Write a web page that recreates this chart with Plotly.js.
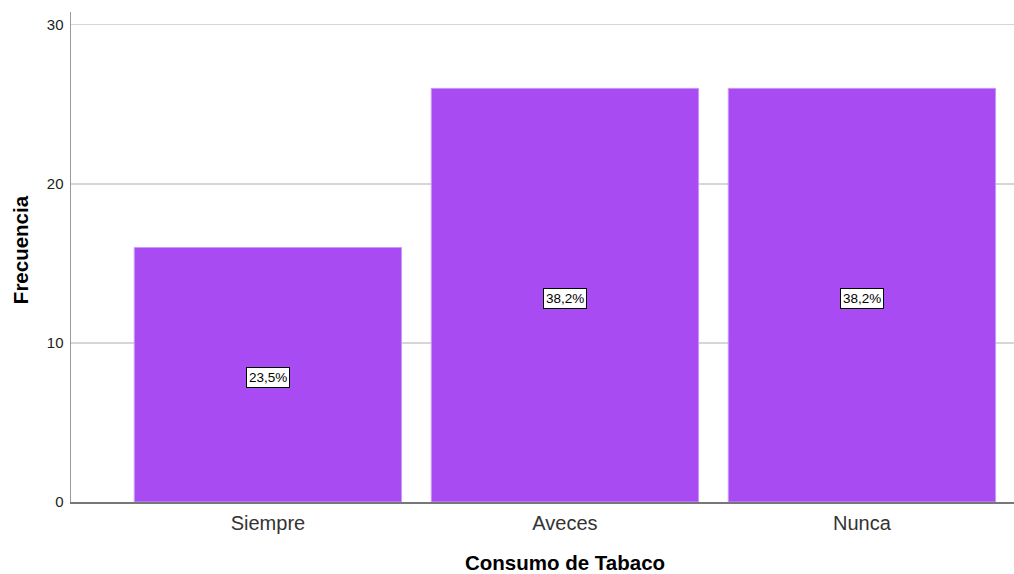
<!DOCTYPE html>
<html><head><meta charset="utf-8">
<script src="https://cdn.plot.ly/plotly-3.0.1.min.js"></script>
<style>html,body{margin:0;padding:0;background:#fff}#c{width:1014px;height:574px}</style>
</head><body><div id="c"></div>
<script>
const categories = ['Siempre', 'Aveces', 'Nunca'];
const frequencies = [16, 26, 26];
const percentLabels = ['23,5%', '38,2%', '38,2%'];
const yTicks = [0, 10, 20, 30];
const xTitle = 'Consumo de Tabaco';
const yTitle = 'Frecuencia';

const trace = {
  type: 'bar', x: categories, y: frequencies,
  marker: {color: '#a94bf2', line: {color: '#c79af5', width: 1}},
  width: 0.9, hoverinfo: 'skip'
};
const titleFont = {family: 'Liberation Sans, Arial', size: 20.5, color: '#000', weight: 'bold'};
const annotations = categories.map((c, i) => ({
  x: c, y: frequencies[i] / 2, xref: 'x', yref: 'y', yshift: -3, text: percentLabels[i],
  showarrow: false, bgcolor: '#ffffff', bordercolor: '#000000', borderwidth: 1, borderpad: 2,
  font: {family: 'Liberation Sans, Arial', size: 13.5, color: '#000'}
}));
annotations.push({
  x: categories[1], xref: 'x', y: 0, yref: 'paper', yshift: -60, yanchor: 'middle',
  borderpad: 0, text: xTitle, showarrow: false, font: titleFont
});
annotations.push({
  x: 0, xref: 'paper', xshift: -51, xanchor: 'center', y: 0.514, yref: 'paper', yanchor: 'middle',
  borderpad: 0, textangle: -90, text: yTitle, showarrow: false, font: titleFont
});
const layout = {
  width: 1014, height: 574,
  margin: {l: 71, r: 0, t: 12, b: 72},
  paper_bgcolor: '#fff', plot_bgcolor: '#fff',
  showlegend: false,
  xaxis: {
    type: 'category', range: [-0.663, 2.512], showgrid: false, zeroline: false,
    showline: true, linecolor: '#777', linewidth: 1.5, ticks: '', ticklabelstandoff: 2,
    tickfont: {family: 'Liberation Sans, Arial', size: 20, color: '#333'}
  },
  yaxis: {
    range: [0, 30.8], tickvals: yTicks, ticktext: yTicks.map(String),
    showgrid: true, gridcolor: '#d6d6d6', gridwidth: 1.5, zeroline: false,
    showline: true, linecolor: '#999', linewidth: 1.5, ticks: '', ticklabelstandoff: 3,
    tickfont: {family: 'Liberation Sans, Arial', size: 15, color: '#222'}
  },
  annotations: annotations
};
Plotly.newPlot('c', [trace], layout, {displayModeBar: false, staticPlot: true});
</script></body></html>
